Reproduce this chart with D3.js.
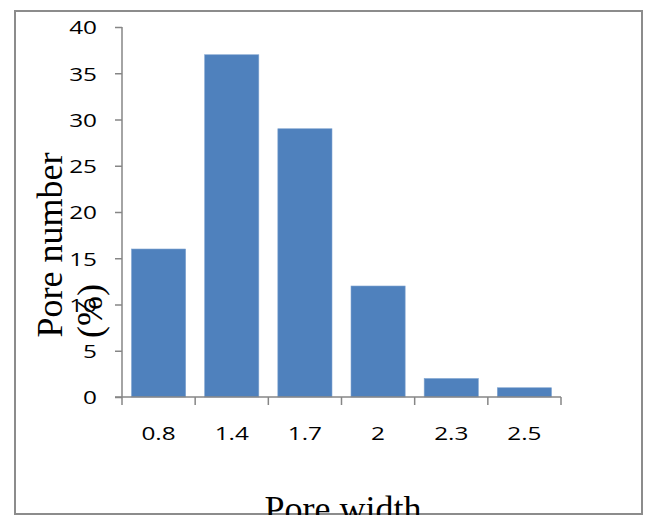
<!DOCTYPE html>
<html>
<head>
<meta charset="utf-8">
<script src="https://cdn.jsdelivr.net/npm/d3@7"></script>
<style>
  body { margin: 0; background: #fff; }
  .axis path, .axis line { stroke: #868686; stroke-width: 1.5; }
  .title { font-family: "Liberation Serif", "Times New Roman", serif; font-size: 36px; fill: #000; }
</style>
</head>
<body>
<div class="content"></div>
<script>
var size = {width: 649, height: 515};
var padding = {left: 122, right: 88, top: 27, bottom: 118};

var categories = ["0.8", "1.4", "1.7", "2", "2.3", "2.5"];
var values = [16, 37, 29, 12, 2, 1];
var yTicks = [0, 5, 10, 15, 20, 25, 30, 35, 40];

var chart = d3.select('.content')
    .append('svg')
    .attr('width', size.width)
    .attr('height', size.height);

// outer frame, bottom is cut off by the image edge
chart.append('rect')
    .attr('x', 15).attr('y', 11)
    .attr('width', 627).attr('height', 503)
    .attr('fill', 'none')
    .attr('stroke', '#8c8c8c')
    .attr('stroke-width', 2);

var xScale = d3.scaleBand()
    .domain(categories)
    .range([padding.left, size.width - padding.right])
    .paddingInner(0.26)
    .paddingOuter(0.13);
var yScale = d3.scaleLinear()
    .domain([0, 40])
    .range([size.height - padding.bottom, padding.top]);

var main = chart.append('g');
main.selectAll('rect')
    .data(values)
    .enter().append('rect')
    .attr('x', function(d, i) { return xScale(categories[i]); })
    .attr('y', function(d) { return yScale(d); })
    .attr('width', xScale.bandwidth())
    .attr('height', function(d) { return yScale(0) - yScale(d); })
    .attr('fill', '#4f81bd')
    .attr('stroke', '#7fa3d0')
    .attr('stroke-width', 0.6);

// x axis with ticks between categories
var step = xScale.step();
var xBounds = d3.range(categories.length + 1).map(function(i) { return padding.left + i * step; });
var xAxisObj = chart.append('g')
    .attr('class', 'axis')
    .attr('transform', 'translate(0,' + yScale(0) + ')');
xAxisObj.append('line')
    .attr('x1', padding.left - 7).attr('x2', xBounds[xBounds.length - 1]);
xAxisObj.selectAll('.tk').data(xBounds).enter().append('line')
    .attr('class', 'tk')
    .attr('x1', function(d) { return d; }).attr('x2', function(d) { return d; })
    .attr('y1', 0).attr('y2', 8);
xAxisObj.selectAll('text').data(categories).enter().append('text')
    .attr('x', function(d) { return xScale(d) + xScale.bandwidth() / 2; })
    .attr('y', 43)
    .attr('text-anchor', 'middle')
    .text(function(d) { return d; });

var yAxis = d3.axisLeft(yScale).tickValues(yTicks).tickSize(7).tickPadding(18).tickSizeOuter(0);
var yAxisObj = chart.append('g')
    .attr('class', 'axis')
    .attr('transform', 'translate(' + padding.left + ',0)')
    .call(yAxis);
yAxisObj.select('.domain').attr('d', 'M0,' + yScale(40) + 'V' + yScale(0));
yAxisObj.selectAll('text').attr('dy', '0.36em');

// the source labels are set wide, so stretch them a bit
chart.selectAll('.axis text')
    .style('font-family', '"Open Sans", sans-serif')
    .style('font-size', '19px')
    .style('fill', '#000')
    .each(function() {
        var len = this.getComputedTextLength();
        d3.select(this).attr('textLength', len * 1.28).attr('lengthAdjust', 'spacingAndGlyphs');
    });

// axis titles
chart.append('text')
    .attr('class', 'title')
    .attr('text-anchor', 'middle')
    .attr('transform', 'translate(62,245) rotate(-90)')
    .text('Pore number');
chart.append('text')
    .attr('class', 'title')
    .attr('text-anchor', 'middle')
    .attr('transform', 'translate(102,311) rotate(-90)')
    .text('(%)');
chart.append('text')
    .attr('class', 'title')
    .attr('text-anchor', 'middle')
    .attr('x', 343).attr('y', 521)
    .text('Pore width');
</script>
</body>
</html>
